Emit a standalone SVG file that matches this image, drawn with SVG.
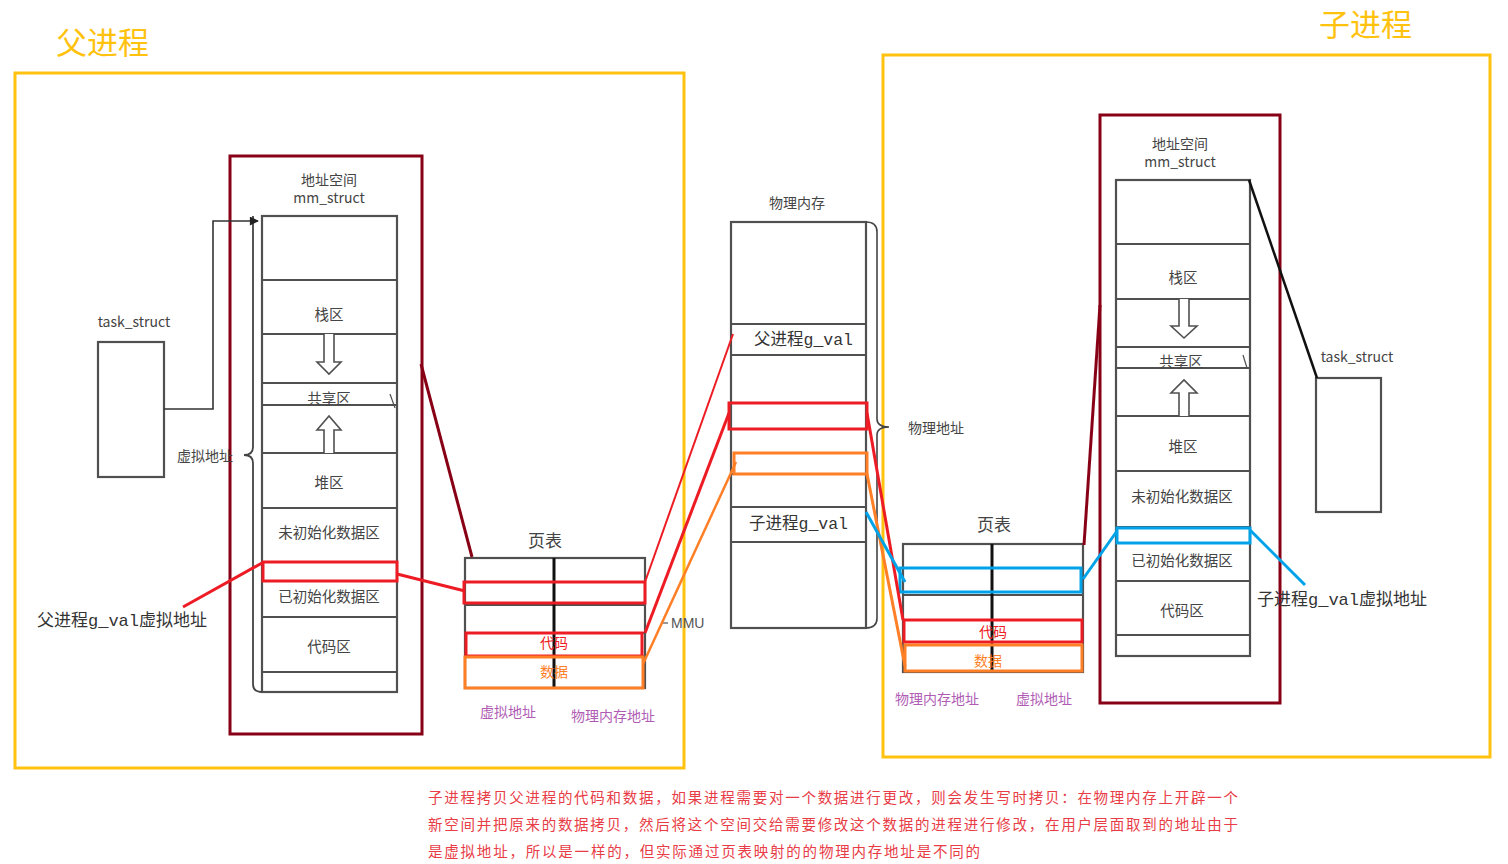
<svg xmlns="http://www.w3.org/2000/svg" width="1508" height="864" viewBox="0 0 1508 864">
<style>
.cjk{font-family:"Noto Sans CJK SC","Noto Sans",sans-serif}
.lbl{font-family:"Noto Sans CJK SC","Noto Sans",sans-serif;font-size:14px;fill:#444;text-anchor:middle;dominant-baseline:central}
.seg{font-family:"Noto Sans CJK SC",sans-serif;font-size:14.5px;fill:#444;text-anchor:middle;dominant-baseline:central}
.mono{font-family:"Liberation Mono","Noto Sans CJK SC",monospace;fill:#333;dominant-baseline:central}
.col{fill:#fff;stroke:#505050;stroke-width:2.2}
.row{stroke:#505050;stroke-width:2.2;fill:none}
.arr{fill:#fff;stroke:#505050;stroke-width:1.6}
.ybox{fill:none;stroke:#FFC20E;stroke-width:3}
.dbox{fill:none;stroke:#880015;stroke-width:3}
.title{font-family:"Noto Sans CJK SC",sans-serif;font-size:31px;fill:#FFC20E}
.pur{font-family:"Noto Sans CJK SC",sans-serif;font-size:14px;fill:#B05CB5;text-anchor:middle;dominant-baseline:central}
.red{stroke:#ED1C24;fill:none}
.org{stroke:#FF7F27;fill:none}
.blu{stroke:#00A2E8;fill:none}
.note{font-family:"Noto Sans CJK SC",sans-serif;font-size:14.5px;fill:#E83C46}
</style>
<defs>
<marker id="ah" viewBox="0 0 10 10" refX="9" refY="5" markerWidth="12" markerHeight="9" orient="auto" markerUnits="userSpaceOnUse">
<path d="M0 0 L10 5 L0 10 z" fill="#222"/>
</marker>
</defs>
<rect width="1508" height="864" fill="#fff"/>

<!-- Parent process frame -->
<g id="parent">
<rect class="ybox" x="15" y="73" width="669" height="695"/>
<text class="title" x="56" y="54">父进程</text>
</g>

<!-- Child process frame -->
<g id="child">
<rect class="ybox" x="883" y="55" width="607" height="702"/>
<text class="title" x="1319" y="36">子进程</text>
</g>

<!-- Left task_struct -->
<g id="task_left">
<rect class="col" x="98" y="342" width="66" height="135"/>
<text class="lbl" x="134" y="321">task_struct</text>
</g>

<!-- Left mm_struct -->
<g id="mm_left">
<rect class="dbox" x="230" y="156" width="192" height="578"/>
<text class="lbl" x="329" y="179">地址空间</text>
<text class="lbl" x="329" y="197">mm_struct</text>
<rect class="col" x="262" y="216" width="135" height="476"/>
<path class="row" d="M262 280H397M262 334H397M262 383H397M262 405H397M262 453H397M262 508H397M262 562H397M262 617H397M262 672H397"/>
<path class="arr" d="M324 334V362H317L329 374L341 362H334V334"/>
<path class="arr" d="M324 453V430H317L329 416L341 430H334V453"/>
<text class="seg" x="329" y="313">栈区</text>
<text class="seg" x="329" y="397">共享区</text>
<text class="seg" x="329" y="481">堆区</text>
<text class="seg" x="329" y="531">未初始化数据区</text>
<text class="seg" x="329" y="595">已初始化数据区</text>
<text class="seg" x="329" y="645">代码区</text>
<path d="M390 394L395 408" stroke="#505050" stroke-width="1.2"/>
<rect x="263" y="562" width="134" height="19" fill="none" stroke="#ED1C24" stroke-width="3"/>
<path d="M253 216V447Q253 455 244 455Q253 455 253 463V684Q253 692 262 692" fill="none" stroke="#444" stroke-width="1.8"/>
<text class="lbl" x="205" y="455">虚拟地址</text>
</g>

<!-- Left page table -->
<g id="pt_left">
<text class="cjk" x="545" y="547" font-size="17" fill="#444" text-anchor="middle">页表</text>
<rect class="col" x="465" y="558" width="180" height="130"/>
<path class="row" d="M465 582H645M465 605H645M465 633H645M465 656H645"/>
<path d="M554 558V688" stroke="#111" stroke-width="3"/>
<rect x="464" y="582" width="181" height="21" fill="none" stroke="#ED1C24" stroke-width="3"/>
<rect x="466" y="633" width="176" height="23" fill="none" stroke="#ED1C24" stroke-width="3"/>
<rect x="465" y="657" width="178" height="31" fill="none" stroke="#FF7F27" stroke-width="3"/>
<text class="cjk" x="554" y="648" font-size="14" fill="#ED1C24" text-anchor="middle">代码</text>
<text class="cjk" x="554" y="677" font-size="14" fill="#FF7F27" text-anchor="middle">数据</text>
<text class="pur" x="508" y="711">虚拟地址</text>
<text class="pur" x="613" y="715">物理内存地址</text>
</g>

<!-- Physical memory -->
<g id="physmem">
<text class="lbl" x="797" y="202">物理内存</text>
<rect class="col" x="731" y="222" width="135" height="406"/>
<path class="row" d="M731 324H866M731 355H866M731 403H866M731 474H866M731 507H866M731 542H866"/>
<text class="mono" x="754" y="340" font-size="16.5">父进程g_val</text>
<text class="mono" x="749" y="524" font-size="16.5">子进程g_val</text>
<rect x="729" y="403" width="138" height="26" fill="none" stroke="#ED1C24" stroke-width="3"/>
<rect x="734" y="453" width="133" height="21" fill="none" stroke="#FF7F27" stroke-width="3"/>
<path d="M866 222Q877 222 877 232V419Q877 427 889 427Q877 427 877 435V618Q877 628 866 628" fill="none" stroke="#444" stroke-width="1.6"/>
<text class="lbl" x="936" y="427">物理地址</text>
</g>

<!-- MMU label -->
<g id="mmu">
<path d="M662 623H668" stroke="#555" stroke-width="1.2"/>
<text x="671" y="628" font-family="Liberation Sans,sans-serif" font-size="14" fill="#555">MMU</text>
</g>

<!-- Right page table -->
<g id="pt_right">
<text class="cjk" x="994" y="531" font-size="17" fill="#444" text-anchor="middle">页表</text>
<rect class="col" x="903" y="544" width="180" height="128"/>
<path class="row" d="M903 568H1083M903 595H1083M903 620H1083M903 645H1083"/>
<path d="M992 544V672" stroke="#111" stroke-width="3"/>
<rect x="900" y="568" width="181" height="24" fill="none" stroke="#00A2E8" stroke-width="3"/>
<rect x="904" y="620" width="178" height="22" fill="none" stroke="#ED1C24" stroke-width="3"/>
<rect x="905" y="645" width="177" height="26" fill="none" stroke="#FF7F27" stroke-width="3"/>
<text class="cjk" x="993" y="637" font-size="14" fill="#ED1C24" text-anchor="middle">代码</text>
<text class="cjk" x="988" y="666" font-size="14" fill="#FF7F27" text-anchor="middle">数据</text>
<text class="pur" x="937" y="698">物理内存地址</text>
<text class="pur" x="1044" y="698">虚拟地址</text>
</g>

<!-- Right mm_struct -->
<g id="mm_right">
<rect class="dbox" x="1100" y="115" width="180" height="588"/>
<text class="lbl" x="1180" y="143">地址空间</text>
<text class="lbl" x="1180" y="161">mm_struct</text>
<rect class="col" x="1116" y="180" width="134" height="476"/>
<path class="row" d="M1116 244H1250M1116 299H1250M1116 347H1250M1116 368H1250M1116 416H1250M1116 471H1250M1116 527H1250M1116 581H1250M1116 635H1250"/>
<path class="arr" d="M1179 299V326H1171L1184 338L1197 326H1189V299"/>
<path class="arr" d="M1179 416V393H1171L1184 380L1197 393H1189V416"/>
<text class="seg" x="1183" y="276">栈区</text>
<text class="seg" x="1181" y="360">共享区</text>
<text class="seg" x="1183" y="445">堆区</text>
<text class="seg" x="1182" y="495">未初始化数据区</text>
<text class="seg" x="1182" y="559">已初始化数据区</text>
<text class="seg" x="1182" y="609">代码区</text>
<path d="M1243 355L1247 368" stroke="#505050" stroke-width="1.2"/>
<rect x="1117" y="528" width="133" height="15" fill="none" stroke="#00A2E8" stroke-width="3"/>
</g>

<!-- Right task_struct -->
<g id="task_right">
<rect class="col" x="1316" y="378" width="65" height="134"/>
<text class="lbl" x="1357" y="356">task_struct</text>
</g>

<!-- Labels -->
<g id="labels">
<text class="mono" x="37" y="621" font-size="17">父进程g_val虚拟地址</text>
<text class="mono" x="1257" y="600" font-size="17">子进程g_val虚拟地址</text>
</g>

<!-- Connectors -->
<g id="connectors">
<path d="M164 409H213V221H258" fill="none" stroke="#333" stroke-width="1.6" marker-end="url(#ah)"/>
<path d="M183 607L262 563" class="red" stroke-width="3"/>
<path d="M397 574L465 591" class="red" stroke-width="3"/>
<path d="M421 364L472 557" stroke="#880015" stroke-width="3" fill="none"/>
<path d="M645 582L733 334" class="red" stroke-width="2"/>
<path d="M645 633L729 413" class="red" stroke-width="3"/>
<path d="M643 664L736 462" class="org" stroke-width="2.5"/>
<path d="M867 413L903 620" class="red" stroke-width="3"/>
<path d="M867 474L905 666" class="org" stroke-width="3"/>
<path d="M866 512L905 582" class="blu" stroke-width="3"/>
<path d="M1083 579L1117 531" class="blu" stroke-width="3"/>
<path d="M1250 530L1305 585" class="blu" stroke-width="3"/>
<path d="M1100 305L1084 545" stroke="#880015" stroke-width="3" fill="none"/>
<path d="M1249 180L1317 378" stroke="#111" stroke-width="2.5" fill="none"/>
</g>

<!-- Note -->
<g id="note">
<text class="note" x="428" y="803" textLength="810" lengthAdjust="spacing">子进程拷贝父进程的代码和数据，如果进程需要对一个数据进行更改，则会发生写时拷贝：在物理内存上开辟一个</text>
<text class="note" x="428" y="830" textLength="810" lengthAdjust="spacing">新空间并把原来的数据拷贝，然后将这个空间交给需要修改这个数据的进程进行修改，在用户层面取到的地址由于</text>
<text class="note" x="428" y="857" textLength="552" lengthAdjust="spacing">是虚拟地址，所以是一样的，但实际通过页表映射的的物理内存地址是不同的</text>
</g>
</svg>
